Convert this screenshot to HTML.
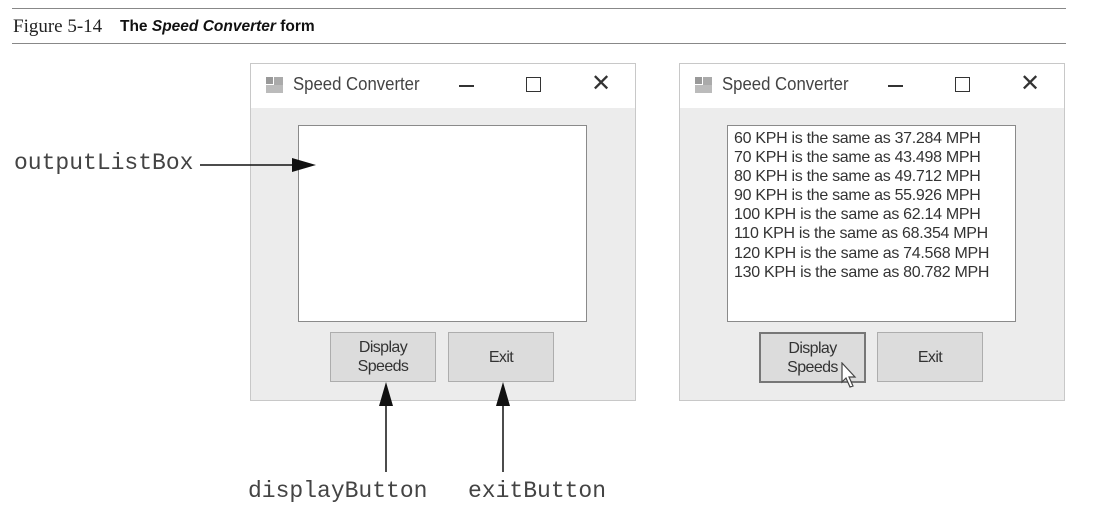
<!DOCTYPE html>
<html><head><style>
body{margin:0;width:1104px;height:524px;background:#fff;position:relative;overflow:hidden;font-family:"Liberation Sans",sans-serif}
.a{position:absolute}
.win{position:absolute;top:63px;width:384px;height:336px;border:1px solid #c8c8c8;background:#ececec}
.tb{position:absolute;left:0;top:0;right:0;height:44px;background:#fff}
.tt{position:absolute;left:42px;top:10px;font-size:18px;color:#444;transform:scaleX(.93);transform-origin:left}
.ic{position:absolute;left:14px;top:12px;width:20px;height:18px}
.lb{position:absolute;top:61px;width:287px;height:195px;background:#fff;border:1px solid #8a8a8a}
.btn{position:absolute;top:268px;width:104px;height:48px;background:#dcdcdc;border:1px solid #adadad;font-size:16px;color:#333;text-align:center;display:flex;align-items:center;justify-content:center;line-height:19px;letter-spacing:-.6px}
.mono{font-family:"Liberation Mono",monospace;font-size:23px;color:#444}
.lines{position:absolute;left:6px;top:3px;font-size:16px;line-height:19.1px;color:#333;letter-spacing:-.3px;white-space:nowrap}
</style></head><body>
<div class="a" style="left:12px;top:8px;width:1054px;height:1px;background:#888"></div>
<div class="a" style="left:12px;top:43px;width:1054px;height:1px;background:#888"></div>
<div class="a" style="left:13px;top:16px;font-family:'Liberation Serif',serif;font-size:19px;color:#222">Figure 5-14</div>
<div class="a" style="left:120px;top:18px;font-size:15.5px;font-weight:bold;color:#111">The <i>Speed Converter</i> form</div>

<div class="win" style="left:250px">
<div class="tb">
<svg class="ic" viewBox="0 0 20 18"><rect x="1" y="1" width="7" height="7" fill="#999"/><rect x="9" y="1" width="9" height="9" fill="#aaa"/><rect x="1" y="9" width="17" height="8" fill="#bbb"/></svg>
<div class="tt">Speed Converter</div>
<div class="a" style="left:208px;top:21px;width:15px;height:2px;background:#333"></div>
<div class="a" style="left:275px;top:13px;width:13px;height:13px;border:1.5px solid #333"></div>
<div class="a" style="left:340px;top:5px;font-size:24px;color:#333">✕</div>
</div>
<div class="lb" style="left:47px"></div>
<div class="btn" style="left:79px">Display<br>Speeds</div>
<div class="btn" style="left:197px">Exit</div>
</div>

<div class="win" style="left:679px">
<div class="tb">
<svg class="ic" viewBox="0 0 20 18"><rect x="1" y="1" width="7" height="7" fill="#999"/><rect x="9" y="1" width="9" height="9" fill="#aaa"/><rect x="1" y="9" width="17" height="8" fill="#bbb"/></svg>
<div class="tt">Speed Converter</div>
<div class="a" style="left:208px;top:21px;width:15px;height:2px;background:#333"></div>
<div class="a" style="left:275px;top:13px;width:13px;height:13px;border:1.5px solid #333"></div>
<div class="a" style="left:340px;top:5px;font-size:24px;color:#333">✕</div>
</div>
<div class="lb" style="left:47px"><div class="lines">60 KPH is the same as 37.284 MPH<br>70 KPH is the same as 43.498 MPH<br>80 KPH is the same as 49.712 MPH<br>90 KPH is the same as 55.926 MPH<br>100 KPH is the same as 62.14 MPH<br>110 KPH is the same as 68.354 MPH<br>120 KPH is the same as 74.568 MPH<br>130 KPH is the same as 80.782 MPH</div></div>
<div class="btn" style="left:79px;border:2px solid #777;width:103px;height:47px">Display<br>Speeds</div>
<div class="btn" style="left:197px">Exit</div>
<svg class="a" style="left:160px;top:298px" width="20" height="28" viewBox="0 0 20 28"><path d="M2 1 L2 20 L6 16 L10 25 L13 24 L9 15 L15 15 Z" fill="#fff" stroke="#444" stroke-width="1.2"/></svg>
</div>

<div class="a mono" style="left:14px;top:150px">outputListBox</div>
<div class="a mono" style="left:248px;top:478px">displayButton</div>
<div class="a mono" style="left:468px;top:478px">exitButton</div>
<svg class="a" style="left:0;top:0" width="1104" height="524">
<line x1="200" y1="165" x2="300" y2="165" stroke="#111" stroke-width="1.5"/>
<polygon points="292,158 316,165 292,172" fill="#111"/>
<line x1="386" y1="472" x2="386" y2="398" stroke="#111" stroke-width="1.5"/>
<polygon points="379,406 386,382 393,406" fill="#111"/>
<line x1="503" y1="472" x2="503" y2="398" stroke="#111" stroke-width="1.5"/>
<polygon points="496,406 503,382 510,406" fill="#111"/>
</svg>
</body></html>
